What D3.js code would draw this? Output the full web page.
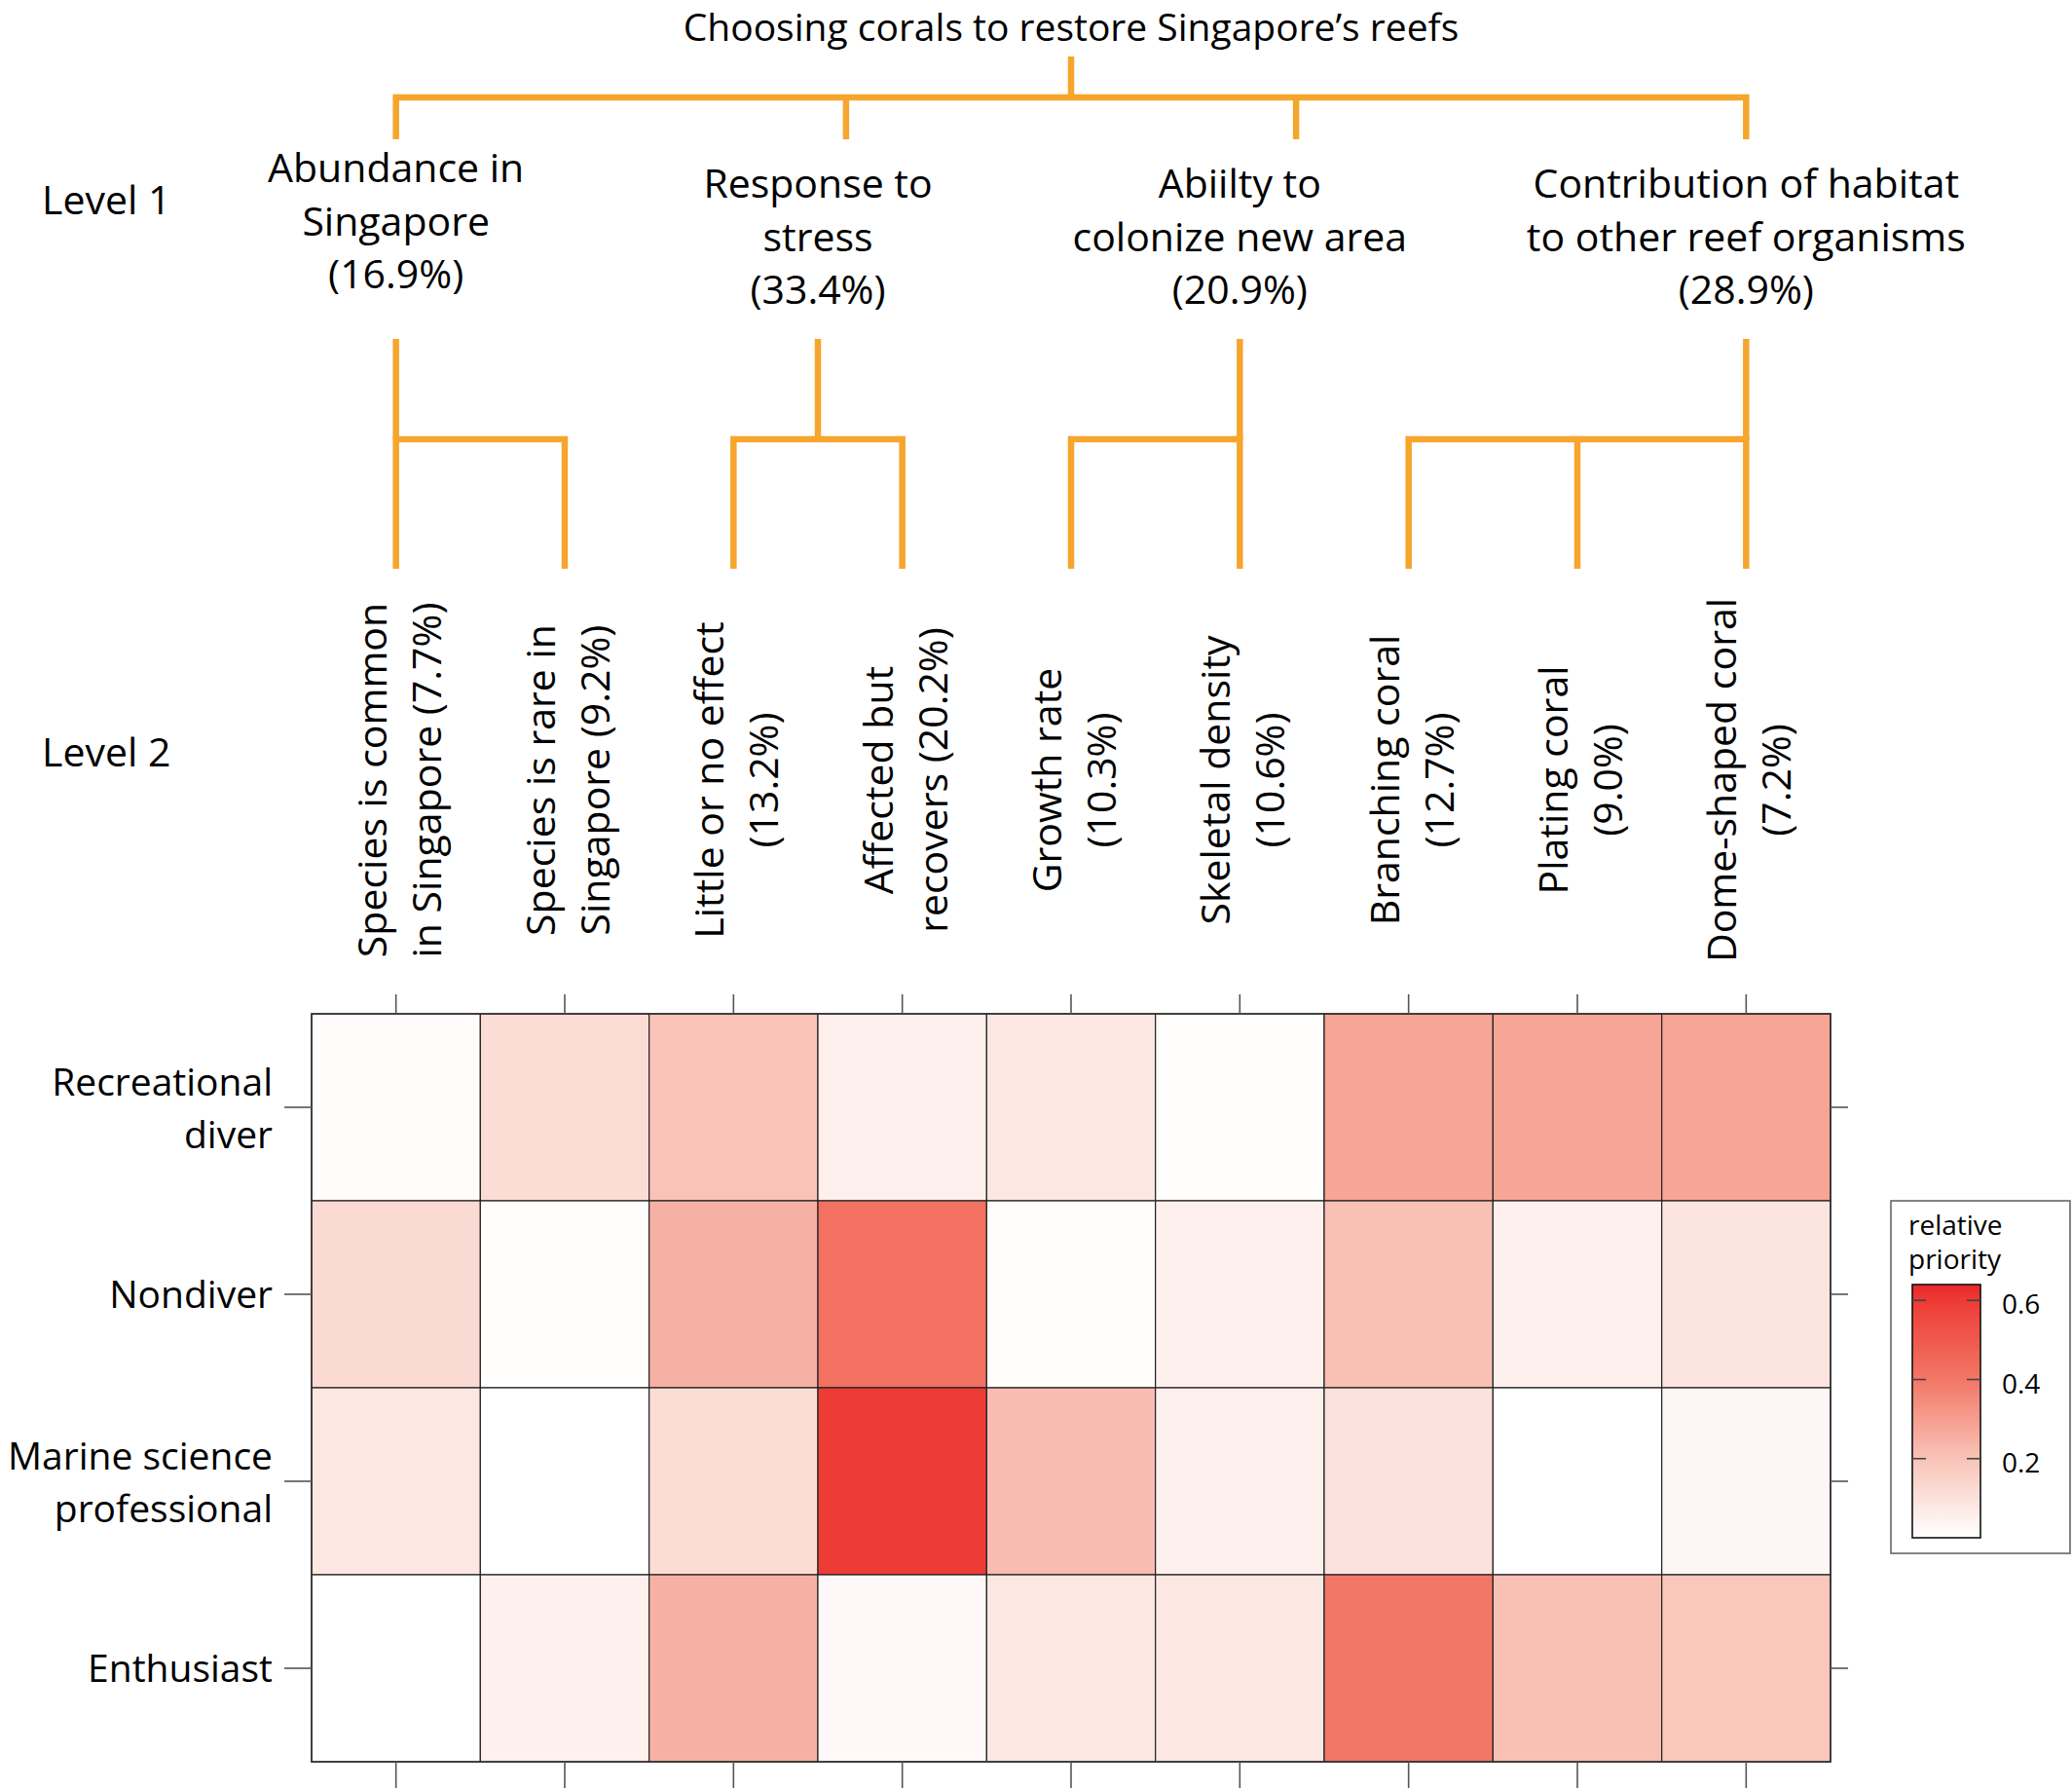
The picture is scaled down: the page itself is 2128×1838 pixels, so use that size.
<!DOCTYPE html>
<html>
<head>
<meta charset="utf-8">
<script src="https://cdnjs.cloudflare.com/ajax/libs/d3/7.8.5/d3.min.js"></script>
<style>
  body { margin: 0; background: #fff; }
  text { font-family: "Open Sans", "Noto Sans", sans-serif; fill: #000; }
</style>
</head>
<body>
<svg id="chart" width="2128" height="1838"></svg>
<script>
// ---- data ----
const title = "Choosing corals to restore Singapore\u2019s reefs";

const level1 = [
  ["Abundance in", "Singapore", "(16.9%)"],
  ["Response to", "stress", "(33.4%)"],
  ["Abiilty to", "colonize new area", "(20.9%)"],
  ["Contribution of habitat", "to other reef organisms", "(28.9%)"]
];
// where the group stem sits over its leaves
const stemAnchor = ["first", "mid", "last", "last"];

const criteria = [
  ["Species is common", "in Singapore (7.7%)"],
  ["Species is rare in", "Singapore (9.2%)"],
  ["Little or no effect", "(13.2%)"],
  ["Affected but", "recovers (20.2%)"],
  ["Growth rate", "(10.3%)"],
  ["Skeletal density", "(10.6%)"],
  ["Branching coral", "(12.7%)"],
  ["Plating coral", "(9.0%)"],
  ["Dome-shaped coral", "(7.2%)"]
];
const criteriaGroup = [0, 0, 1, 1, 2, 2, 3, 3, 3];

const stakeholders = [
  ["Recreational", "diver"],
  ["Nondiver"],
  ["Marine science", "professional"],
  ["Enthusiast"]
];

// relative priority, one row per stakeholder, one value per criterion
const recreational = [0.01, 0.115, 0.20, 0.05, 0.08, 0.005, 0.28, 0.28, 0.28];
const nondiver     = [0.125, 0.005, 0.25, 0.42, 0.005, 0.05, 0.21, 0.05, 0.09];
const marineSci    = [0.08, 0.0, 0.115, 0.60, 0.22, 0.05, 0.10, 0.0, 0.03];
const enthusiast   = [0.0, 0.05, 0.25, 0.02, 0.08, 0.08, 0.40, 0.21, 0.19];
const priority = [recreational, nondiver, marineSci, enthusiast];

const legendTicks = [0.2, 0.4, 0.6];
const legendMax = 0.64;

// ---- drawing ----
const svg = d3.select("#chart");
const orange = "#f6a52d";

const x = d3.scaleBand().domain(d3.range(criteria.length)).range([320, 1880]);
const y = d3.scaleBand().domain(d3.range(stakeholders.length)).range([1041, 1809]);
const cx = i => x(i) + x.bandwidth() / 2;

const color = d3.scaleLinear()
  .domain([0, 0.2, 0.4, 0.6, legendMax])
  .range(["#ffffff", "#f9c4b8", "#f27766", "#ee3b35", "#e8262a"])
  .clamp(true);

// title
svg.append("text")
  .attr("x", cx(4)).attr("y", 42)
  .attr("text-anchor", "middle")
  .style("font-size", "39px")
  .text(title);

// top of the tree
const first = cx(0), last = cx(criteria.length - 1);
const topDrops = d3.range(level1.length).map(k => first + k * (last - first) / (level1.length - 1));
const tree = svg.append("g")
  .attr("fill", "none").attr("stroke", orange)
  .attr("stroke-width", 6.5).attr("stroke-linejoin", "miter");

tree.append("path").attr("d", `M${(first + last) / 2},58V100`);
tree.append("path").attr("d", `M${first},143V100H${last}V143`);
topDrops.slice(1, -1).forEach(d => tree.append("path").attr("d", `M${d},100V143`));

// level 1 groups
level1.forEach((lines, g) => {
  const leaves = criteriaGroup.map((k, i) => k === g ? i : -1).filter(i => i >= 0).map(cx);
  const a = leaves[0], b = leaves[leaves.length - 1];
  const stem = stemAnchor[g] === "first" ? a : stemAnchor[g] === "last" ? b : (a + b) / 2;

  tree.append("path").attr("d", `M${a},584V451H${b}V584`);
  leaves.slice(1, -1).forEach(l => tree.append("path").attr("d", `M${l},451V584`));
  tree.append("path").attr("d", `M${stem},348V451`);

  const base = g === 0 ? 187 : 203;
  const t = svg.append("text")
    .attr("text-anchor", "middle")
    .style("font-size", "41px");
  lines.forEach((s, j) => t.append("tspan").attr("x", stem).attr("y", base + j * 54.5).text(s));
});

svg.append("text").attr("x", 43).attr("y", 220).style("font-size", "41px").text("Level 1");
svg.append("text").attr("x", 43).attr("y", 787).style("font-size", "41px").text("Level 2");

// rotated level 2 labels
criteria.forEach((lines, i) => {
  const t = svg.append("text")
    .attr("transform", `translate(${cx(i)},801) rotate(-90)`)
    .attr("text-anchor", "middle")
    .style("font-size", "41px");
  lines.forEach((s, j) => t.append("tspan").attr("x", 0).attr("y", -10 + j * 56).text(s));
});

// heatmap cells
const cells = [];
priority.forEach((row, r) => row.forEach((v, c) => cells.push({ r, c, v })));
svg.append("g").selectAll("rect")
  .data(cells)
  .enter()
  .append("rect")
  .attr("x", d => x(d.c))
  .attr("y", d => y(d.r))
  .attr("width", x.bandwidth())
  .attr("height", y.bandwidth())
  .attr("fill", d => color(d.v))
  .attr("stroke", "#222")
  .attr("stroke-width", 1.2);

svg.append("rect")
  .attr("x", 320).attr("y", 1041).attr("width", 1560).attr("height", 768)
  .attr("fill", "none").attr("stroke", "#333").attr("stroke-width", 1.6);

// axis ticks all round
const tickStyle = g => {
  g.select(".domain").remove();
  g.selectAll("line").attr("stroke", "#555").attr("stroke-width", 1.6);
};
svg.append("g").attr("transform", "translate(0,1041)")
  .call(d3.axisTop(x).tickSize(20).tickFormat("")).call(tickStyle);
svg.append("g").attr("transform", "translate(0,1809)")
  .call(d3.axisBottom(x).tickSize(27).tickFormat("")).call(tickStyle);
svg.append("g").attr("transform", "translate(320,0)")
  .call(d3.axisLeft(y).tickSize(28).tickFormat("")).call(tickStyle);
svg.append("g").attr("transform", "translate(1880,0)")
  .call(d3.axisRight(y).tickSize(18).tickFormat("")).call(tickStyle);

// row labels
stakeholders.forEach((lines, r) => {
  const mid = y(r) + y.bandwidth() / 2;
  const t = svg.append("text")
    .attr("text-anchor", "end")
    .style("font-size", "39px");
  const start = lines.length === 1 ? mid + 14 : mid - 12;
  lines.forEach((s, j) => t.append("tspan").attr("x", 280).attr("y", start + j * 54).text(s));
});

// legend
const ly = d3.scaleLinear().domain([0, legendMax]).range([1579, 1319]);
const defs = svg.append("defs");
const grad = defs.append("linearGradient").attr("id", "ramp")
  .attr("x1", 0).attr("y1", 1).attr("x2", 0).attr("y2", 0);
d3.range(0, 1.0001, 0.05).forEach(f => {
  grad.append("stop").attr("offset", f).attr("stop-color", color(f * legendMax));
});

svg.append("rect")
  .attr("x", 1942).attr("y", 1233).attr("width", 184).attr("height", 362)
  .attr("fill", "#fff").attr("stroke", "#666").attr("stroke-width", 1.6);

const lt = svg.append("text").style("font-size", "28px");
lt.append("tspan").attr("x", 1960).attr("y", 1268).text("relative");
lt.append("tspan").attr("x", 1960).attr("y", 1303).text("priority");

svg.append("rect")
  .attr("x", 1964).attr("y", ly(legendMax)).attr("width", 70).attr("height", ly(0) - ly(legendMax))
  .attr("fill", "url(#ramp)").attr("stroke", "#111").attr("stroke-width", 1.6);

const lg = svg.append("g");
legendTicks.forEach(v => {
  lg.append("line").attr("x1", 1964).attr("x2", 1978).attr("y1", ly(v)).attr("y2", ly(v))
    .attr("stroke", "#444").attr("stroke-width", 1.6);
  lg.append("line").attr("x1", 2020).attr("x2", 2034).attr("y1", ly(v)).attr("y2", ly(v))
    .attr("stroke", "#444").attr("stroke-width", 1.6);
  lg.append("text").attr("x", 2056).attr("y", ly(v) + 14)
    .style("font-size", "28px").text(d3.format(".1f")(v));
});
</script>
</body>
</html>
